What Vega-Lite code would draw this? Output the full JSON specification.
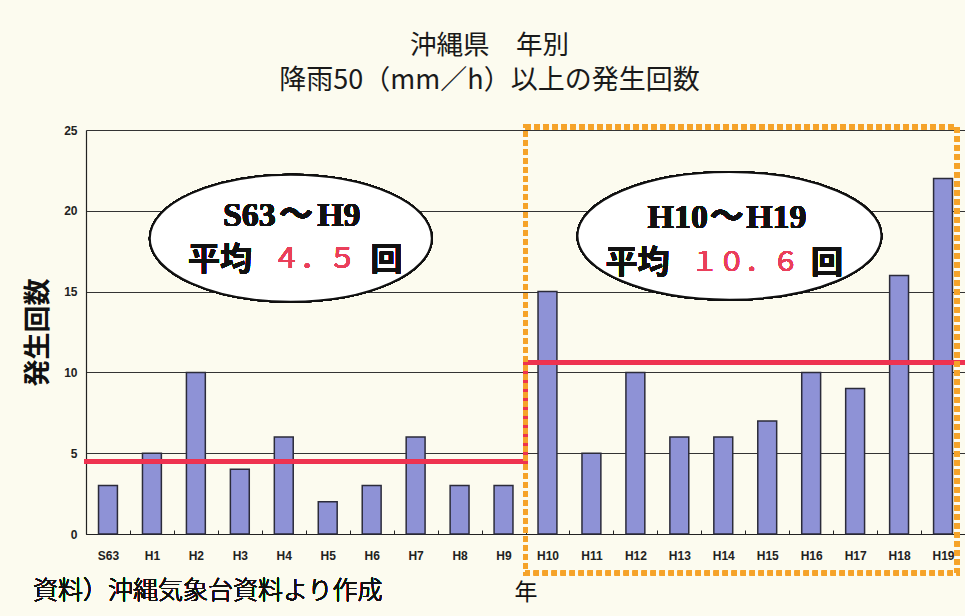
{
  "$schema": "https://vega.github.io/schema/vega-lite/v6.json",
  "width": 879,
  "height": 404,
  "autosize": "none",
  "padding": {"left": 86, "top": 130, "right": 0, "bottom": 82},
  "background": "#fcfbef",
  "title": {
    "text": "沖縄県　年別",
    "subtitle": "降雨50（mm／h）以上の発生回数",
    "anchor": "middle",
    "frame": "group",
    "dx": -36,
    "offset": 30,
    "fontSize": 26.5,
    "font": "Noto Sans CJK JP",
    "fontWeight": 400,
    "color": "#1a1a1a",
    "subtitleFontSize": 27,
    "subtitleFont": "Noto Sans CJK JP",
    "subtitleFontWeight": 400,
    "subtitleColor": "#1a1a1a",
    "subtitlePadding": 9
  },
  "data": {
    "values": [
      {"year": "S63", "count": 3},
      {"year": "H1", "count": 5},
      {"year": "H2", "count": 10},
      {"year": "H3", "count": 4},
      {"year": "H4", "count": 6},
      {"year": "H5", "count": 2},
      {"year": "H6", "count": 3},
      {"year": "H7", "count": 6},
      {"year": "H8", "count": 3},
      {"year": "H9", "count": 3},
      {"year": "H10", "count": 15},
      {"year": "H11", "count": 5},
      {"year": "H12", "count": 10},
      {"year": "H13", "count": 6},
      {"year": "H14", "count": 6},
      {"year": "H15", "count": 7},
      {"year": "H16", "count": 10},
      {"year": "H17", "count": 9},
      {"year": "H18", "count": 16},
      {"year": "H19", "count": 22}
    ]
  },
  "layer": [
    {
      "mark": {"type": "bar", "width": {"band": 0.43}, "fill": "#8e92d6", "stroke": "#2b2b3a", "strokeWidth": 1.5},
      "encoding": {
        "x": {
          "field": "year",
          "type": "nominal",
          "sort": null,
          "scale": {"paddingInner": 0, "paddingOuter": 0},
          "axis": {
            "title": "年",
            "titleFont": "Noto Sans CJK JP",
            "titleFontSize": 23,
            "titleFontWeight": 400,
            "titleColor": "#111",
            "titlePadding": 20,
            "labelFont": "Liberation Sans",
            "labelFontWeight": "bold",
            "labelFontSize": 12,
            "labelColor": "#222",
            "labelAngle": 0,
            "labelPadding": 20,
            "tickBand": "extent",
            "tickSize": -4,
            "tickColor": "#222",
            "domainColor": "#222",
            "domainWidth": 1.2
          }
        },
        "y": {
          "field": "count",
          "type": "quantitative",
          "scale": {"domain": [0, 25], "nice": false},
          "axis": {
            "title": "発生回数",
            "titleFont": "Noto Sans CJK JP",
            "titleFontSize": 27,
            "titleFontWeight": "bold",
            "titleColor": "#111",
            "titlePadding": 11,
            "values": [0, 5, 10, 15, 20, 25],
            "labelFont": "Liberation Sans",
            "labelFontWeight": "bold",
            "labelFontSize": 12,
            "labelColor": "#222",
            "labelPadding": 9,
            "ticks": false,
            "domainColor": "#222",
            "domainWidth": 1.2,
            "grid": true,
            "gridColor": "#333",
            "gridWidth": 1
          }
        }
      }
    },
    {
      "mark": {"type": "rule", "color": "#ee3350", "strokeWidth": 4, "strokeCap": "square"},
      "encoding": {
        "x": {"datum": "S63", "bandPosition": 0},
        "x2": {"datum": "H9", "bandPosition": 1},
        "y": {"datum": 4.5}
      }
    },
    {
      "mark": {"type": "rule", "color": "#ee3350", "strokeWidth": 4, "strokeCap": "square"},
      "encoding": {
        "x": {"datum": "H10", "bandPosition": 0},
        "y": {"datum": 4.5},
        "y2": {"datum": 10.6}
      }
    },
    {
      "mark": {"type": "rule", "color": "#ee3350", "strokeWidth": 4, "strokeCap": "square"},
      "encoding": {
        "x": {"datum": "H10", "bandPosition": 0},
        "x2": {"datum": "H19", "bandPosition": 1},
        "y": {"datum": 10.6}
      }
    },
    {
      "mark": {"type": "point", "shape": "M-1,0A1,0.45,0,1,0,1,0A1,0.45,0,1,0,-1,0", "size": 79524, "filled": true, "fill": "#ffffff", "fillOpacity": 1, "opacity": 1, "stroke": "#111111", "strokeWidth": 2},
      "encoding": {
        "x": {"datum": "H4", "bandPosition": 0.66},
        "y": {"datum": 18.3}
      }
    },
    {
      "mark": {"type": "point", "shape": "M-1,0A1,0.42,0,1,0,1,0A1,0.42,0,1,0,-1,0", "size": 92416, "filled": true, "fill": "#ffffff", "fillOpacity": 1, "opacity": 1, "stroke": "#111111", "strokeWidth": 2},
      "encoding": {
        "x": {"datum": "H14", "bandPosition": 0.64},
        "y": {"datum": 18.45}
      }
    },
    {
      "mark": {"type": "text", "text": "S63", "font": "Liberation Serif", "fontWeight": "bold", "fontSize": 34, "fill": "#111", "stroke": null, "align": "right", "baseline": "middle"},
      "encoding": {"x": {"datum": "H4", "bandPosition": 0.32}, "y": {"datum": 19.65}}
    },
    {
      "mark": {"type": "text", "text": "～", "font": "Noto Sans CJK JP", "fontWeight": "bold", "fontSize": 34, "fill": "#111", "stroke": null, "align": "center", "baseline": "middle"},
      "encoding": {"x": {"datum": "H4", "bandPosition": 0.78}, "y": {"datum": 19.65}}
    },
    {
      "mark": {"type": "text", "text": "H9", "font": "Liberation Serif", "fontWeight": "bold", "fontSize": 34, "fill": "#111", "stroke": null, "align": "left", "baseline": "middle"},
      "encoding": {"x": {"datum": "H5", "bandPosition": 0.26}, "y": {"datum": 19.65}}
    },
    {
      "mark": {"type": "text", "text": "平均", "font": "Noto Sans CJK JP", "fontWeight": "bold", "fontSize": 32, "fill": "#111", "stroke": null, "align": "center", "baseline": "middle"},
      "encoding": {"x": {"datum": "H3", "bandPosition": 0.05}, "y": {"datum": 16.95}}
    },
    {
      "mark": {"type": "text", "text": "４．５", "font": "Noto Sans CJK JP", "fontWeight": 400, "fontSize": 28, "fill": "#ea3f5a", "stroke": null, "align": "center", "baseline": "middle"},
      "encoding": {"x": {"datum": "H5", "bandPosition": 0.2}, "y": {"datum": 16.95}}
    },
    {
      "mark": {"type": "text", "text": "回", "font": "Noto Sans CJK JP", "fontWeight": "bold", "fontSize": 32, "fill": "#111", "stroke": null, "align": "center", "baseline": "middle"},
      "encoding": {"x": {"datum": "H6", "bandPosition": 0.84}, "y": {"datum": 16.95}}
    },
    {
      "mark": {"type": "text", "text": "H10", "font": "Liberation Serif", "fontWeight": "bold", "fontSize": 34, "fill": "#111", "stroke": null, "align": "right", "baseline": "middle"},
      "encoding": {"x": {"datum": "H14", "bandPosition": 0.15}, "y": {"datum": 19.55}}
    },
    {
      "mark": {"type": "text", "text": "～", "font": "Noto Sans CJK JP", "fontWeight": "bold", "fontSize": 34, "fill": "#111", "stroke": null, "align": "center", "baseline": "middle"},
      "encoding": {"x": {"datum": "H14", "bandPosition": 0.58}, "y": {"datum": 19.55}}
    },
    {
      "mark": {"type": "text", "text": "H19", "font": "Liberation Serif", "fontWeight": "bold", "fontSize": 34, "fill": "#111", "stroke": null, "align": "left", "baseline": "middle"},
      "encoding": {"x": {"datum": "H15", "bandPosition": 0.02}, "y": {"datum": 19.55}}
    },
    {
      "mark": {"type": "text", "text": "平均", "font": "Noto Sans CJK JP", "fontWeight": "bold", "fontSize": 32, "fill": "#111", "stroke": null, "align": "center", "baseline": "middle"},
      "encoding": {"x": {"datum": "H12", "bandPosition": 0.55}, "y": {"datum": 16.77}}
    },
    {
      "mark": {"type": "text", "text": "１０．６", "font": "Noto Sans CJK JP", "fontWeight": 400, "fontSize": 27, "fill": "#ea3f5a", "stroke": null, "align": "center", "baseline": "middle"},
      "encoding": {"x": {"datum": "H15", "bandPosition": 0}, "y": {"datum": 16.77}}
    },
    {
      "mark": {"type": "text", "text": "回", "font": "Noto Sans CJK JP", "fontWeight": "bold", "fontSize": 32, "fill": "#111", "stroke": null, "align": "center", "baseline": "middle"},
      "encoding": {"x": {"datum": "H16", "bandPosition": 0.86}, "y": {"datum": 16.77}}
    },
    {
      "mark": {"type": "rect", "fill": null, "filled": false, "stroke": "#f5a32a", "strokeWidth": 5, "strokeDash": [5, 4]},
      "encoding": {
        "x": {"datum": "H10", "bandPosition": 0},
        "x2": {"datum": "H19", "bandPosition": 0.82},
        "y": {"datum": 25.2},
        "y2": {"datum": -2.41}
      }
    },
    {
      "mark": {"type": "text", "text": "資料）沖縄気象台資料より作成", "font": "Noto Sans CJK JP", "fontWeight": 300, "fontSize": 25, "fill": "#111", "stroke": null, "align": "left", "baseline": "middle", "dx": -53},
      "encoding": {"x": {"datum": "S63", "bandPosition": 0}, "y": {"datum": -3.5}}
    }
  ]
}
